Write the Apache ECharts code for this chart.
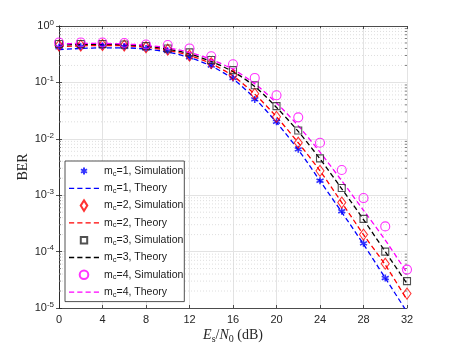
<!DOCTYPE html>
<html>
<head>
<meta charset="utf-8">
<script src="https://cdn.jsdelivr.net/npm/echarts@6/dist/echarts.min.js"></script>
<style>
  html, body { margin: 0; padding: 0; background: #fff; }
  #chart { width: 450px; height: 346px; }
</style>
</head>
<body>
<div id="chart"></div>
<script>
// Es/N0 in dB
const snr = [0, 2, 4, 6, 8, 10, 12, 14, 16, 18, 20, 22, 24, 26, 28, 30, 32]

// simulated BER (markers)
const simM1 = [0.42, 0.43, 0.44, 0.43, 0.40, 0.36, 0.28, 0.20, 0.12, 0.05, 0.02, 0.0065, 0.0018, 5.2e-4, 1.4e-4, 3.4e-5, null]
const simM2 = [0.45, 0.45, 0.46, 0.45, 0.42, 0.38, 0.30, 0.22, 0.135, 0.063, 0.0245, 0.0085, 0.0027, 7.4e-4, 2.0e-4, 6.1e-5, 1.8e-5]
const simM3 = [0.48, 0.48, 0.48, 0.47, 0.44, 0.40, 0.34, 0.25, 0.165, 0.089, 0.038, 0.014, 0.0045, 1.34e-3, 3.8e-4, 1.0e-4, 3.0e-5]
const simM4 = [0.51, 0.51, 0.51, 0.50, 0.47, 0.46, 0.40, 0.29, 0.21, 0.12, 0.059, 0.024, 0.0085, 0.0028, 8.9e-4, 2.8e-4, 4.8e-5]

// theoretical BER (dashed lines)
const thM1 = [0.38, 0.40, 0.41, 0.41, 0.39, 0.345, 0.275, 0.195, 0.115, 0.052, 0.0195, 0.0064, 0.0018, 5.0e-4, 1.35e-4, 3.4e-5, 8.5e-6]
const thM2 = [0.43, 0.445, 0.45, 0.445, 0.42, 0.37, 0.30, 0.215, 0.13, 0.062, 0.0245, 0.0085, 0.0027, 7.4e-4, 2.0e-4, 5.8e-5, 1.4e-5]
const thM3 = [0.46, 0.47, 0.475, 0.465, 0.44, 0.39, 0.32, 0.235, 0.155, 0.085, 0.036, 0.0135, 0.0044, 1.3e-3, 3.7e-4, 1.0e-4, 2.7e-5]
const thM4 = [0.48, 0.49, 0.49, 0.48, 0.455, 0.41, 0.34, 0.255, 0.17, 0.095, 0.043, 0.017, 0.0058, 0.0018, 5.4e-4, 1.6e-4, 4.2e-5]

const yMin = 1e-5
const yMax = 1

// minor log grid values 2..9 x 10^k
const minorVals = []
for (let k = -5; k < 0; k++) {
  for (let m = 2; m <= 9; m++) minorVals.push([m * Math.pow(10, k)])
}

const pairs = (ys) => snr.map((x, i) => [x, ys[i]])

const axisColor = '#262626'
const gridColor = '#e3e3e3'
const sansFont = 'Liberation Sans'
const serifFont = 'Liberation Serif'

const asterisk = 'path://M5,0L5,10M0.67,2.5L9.33,7.5M0.67,7.5L9.33,2.5'

// legend icons: the two zero-length moves pin the box to 30x12 so the marker stays small and centred
const pad = 'M0,0L0,0M30,12L30,12'
const legendIcons = {
  star: 'path://' + pad + 'M15,2.5L15,9.5M12,4.25L18,7.75M12,7.75L18,4.25',
  diamond: 'path://' + pad + 'M15,0.8L18.3,6L15,11.2L11.7,6Z',
  rect: 'path://' + pad + 'M11.8,2.8h6.4v6.4h-6.4Z',
  circle: 'path://' + pad + 'M19.3,6A4.3,4.3,0,1,1,10.7,6A4.3,4.3,0,1,1,19.3,6Z',
  dash: 'path://M0,0h5v1.3h-5zM8,0h5v1.3h-5zM16,0h5v1.3h-5zM24,0h5v1.3h-5z'
}

const simSeries = (name, data, symbol, size, color) => ({
  name: name,
  type: 'scatter',
  data: pairs(data),
  symbol: symbol,
  symbolSize: size,
  itemStyle: { color: symbol === asterisk ? color : 'rgba(0,0,0,0)', borderColor: color, borderWidth: symbol === asterisk ? 1.6 : 1.1 },
  z: 5
})
const theorySeries = (name, data, color) => ({
  name: name,
  type: 'line',
  data: pairs(data),
  symbol: 'none',
  smooth: 0.3,
  clip: true,
  lineStyle: { color: color, width: 1.3, type: [5, 3] },
  itemStyle: { color: color },
  z: 4
})

const legendItems = [
  { name: 'm1s', icon: legendIcons.star },
  { name: 'm1t', icon: legendIcons.dash },
  { name: 'm2s', icon: legendIcons.diamond },
  { name: 'm2t', icon: legendIcons.dash },
  { name: 'm3s', icon: legendIcons.rect },
  { name: 'm3t', icon: legendIcons.dash },
  { name: 'm4s', icon: legendIcons.circle },
  { name: 'm4t', icon: legendIcons.dash }
]
const legendText = {
  m1s: '{n|m}{sub|c}{n|=1, Simulation}',
  m1t: '{n|m}{sub|c}{n|=1, Theory}',
  m2s: '{n|m}{sub|c}{n|=2, Simulation}',
  m2t: '{n|m}{sub|c}{n|=2, Theory}',
  m3s: '{n|m}{sub|c}{n|=3, Simulation}',
  m3t: '{n|m}{sub|c}{n|=3, Theory}',
  m4s: '{n|m}{sub|c}{n|=4, Simulation}',
  m4t: '{n|m}{sub|c}{n|=4, Theory}'
}

const chart = echarts.init(document.getElementById('chart'), null, { renderer: 'canvas' })

const option = {
  animation: false,
  backgroundColor: '#fff',
  grid: { left: 59, right: 43, top: 26, bottom: 38, containLabel: false, outerBoundsMode: 'none' },
  legend: {
    data: legendItems,
    orient: 'vertical',
    left: 65,
    top: 161,
    padding: [3, 1, 3, 3],
    itemWidth: 30,
    itemHeight: 12,
    itemGap: 3.8,
    symbolKeepAspect: true,
    backgroundColor: '#fff',
    borderColor: axisColor,
    borderWidth: 0.8,
    borderRadius: 0,
    formatter: (n) => legendText[n],
    textStyle: {
      fontFamily: sansFont,
      fontSize: 10.5,
      color: '#1a1a1a',
      rich: {
        n: { fontFamily: sansFont, fontSize: 10.5, color: '#1a1a1a', lineHeight: 12 },
        sub: { fontFamily: sansFont, fontSize: 7.5, color: '#1a1a1a', padding: [5, 0, 0, 0], lineHeight: 12 }
      }
    }
  },
  xAxis: [
    {
      type: 'value',
      min: 0,
      max: 32,
      interval: 4,
      name: '{i|E}{s|s}{r|/}{i|N}{s|0}{r| (dB)}',
      nameLocation: 'middle',
      nameGap: 19,
      nameMoveOverlap: false,
      nameTextStyle: {
        rich: {
          i: { fontFamily: serifFont, fontStyle: 'italic', fontSize: 14, color: '#262626' },
          r: { fontFamily: serifFont, fontSize: 14, color: '#262626' },
          s: { fontFamily: serifFont, fontSize: 10, color: '#262626', padding: [7, 0, 0, 0] }
        }
      },
      axisLine: { show: true, lineStyle: { color: axisColor, width: 0.8 } },
      axisTick: { show: true, inside: true, length: 3, lineStyle: { color: axisColor, width: 0.8 } },
      axisLabel: { fontFamily: sansFont, fontSize: 11, color: axisColor, margin: 6 },
      splitLine: { show: true, lineStyle: { color: gridColor, width: 1 } }
    },
    {
      type: 'value',
      position: 'top',
      min: 0,
      max: 32,
      interval: 4,
      axisLine: { show: true, lineStyle: { color: axisColor, width: 0.8 } },
      axisTick: { show: true, inside: true, length: 3, lineStyle: { color: axisColor, width: 0.8 } },
      axisLabel: { show: false },
      splitLine: { show: false }
    }
  ],
  yAxis: [
    {
      type: 'log',
      logBase: 10,
      min: yMin,
      max: yMax,
      name: 'BER',
      nameLocation: 'middle',
      nameGap: 29,
      nameMoveOverlap: false,
      nameTextStyle: { fontFamily: serifFont, fontSize: 14, color: '#262626' },
      axisLine: { show: true, lineStyle: { color: axisColor, width: 0.8 } },
      axisTick: { show: true, inside: true, length: 3, lineStyle: { color: axisColor, width: 0.8 } },
      axisLabel: {
        margin: 5,
        formatter: (v) => '{b|10}{e|' + Math.round(Math.log10(v)) + '}',
        rich: {
          b: { fontFamily: sansFont, fontSize: 11, color: axisColor },
          e: { fontFamily: sansFont, fontSize: 8, color: axisColor, padding: [0, 0, 7, 0] }
        }
      },
      splitLine: { show: true, lineStyle: { color: gridColor, width: 1 } }
    },
    {
      type: 'log',
      logBase: 10,
      min: yMin,
      max: yMax,
      position: 'right',
      axisLine: { show: true, lineStyle: { color: axisColor, width: 0.8 } },
      axisTick: { show: true, inside: true, length: 3, lineStyle: { color: axisColor, width: 0.8 } },
      axisLabel: { show: false },
      splitLine: { show: false }
    }
  ],
  series: [
    {
      // minor log grid and minor ticks
      type: 'custom',
      silent: true,
      z: 1,
      data: minorVals,
      renderItem: (params, api) => {
        const v = api.value(0)
        const p0 = api.coord([0, v])
        const p1 = api.coord([32, v])
        return {
          type: 'group',
          children: [
            { type: 'line', shape: { x1: p0[0], y1: p0[1], x2: p1[0], y2: p1[1] },
              style: { stroke: '#d6d6d6', lineWidth: 0.8, lineDash: [1, 2] } },
            { type: 'line', shape: { x1: p0[0], y1: p0[1], x2: p0[0] + 2, y2: p0[1] },
              style: { stroke: axisColor, lineWidth: 0.6 } },
            { type: 'line', shape: { x1: p1[0], y1: p1[1], x2: p1[0] - 2, y2: p1[1] },
              style: { stroke: axisColor, lineWidth: 0.6 } }
          ]
        }
      }
    },
    simSeries('m1s', simM1, asterisk, 7, '#0000ff'),
    theorySeries('m1t', thM1, '#0000ff'),
    simSeries('m2s', simM2, 'diamond', [8, 11], '#ff0000'),
    theorySeries('m2t', thM2, '#ff0000'),
    simSeries('m3s', simM3, 'rect', 7, '#262626'),
    theorySeries('m3t', thM3, '#000000'),
    simSeries('m4s', simM4, 'circle', 9, '#ff00ff'),
    theorySeries('m4t', thM4, '#ff00ff')
  ]
}

chart.setOption(option)
</script>
</body>
</html>
